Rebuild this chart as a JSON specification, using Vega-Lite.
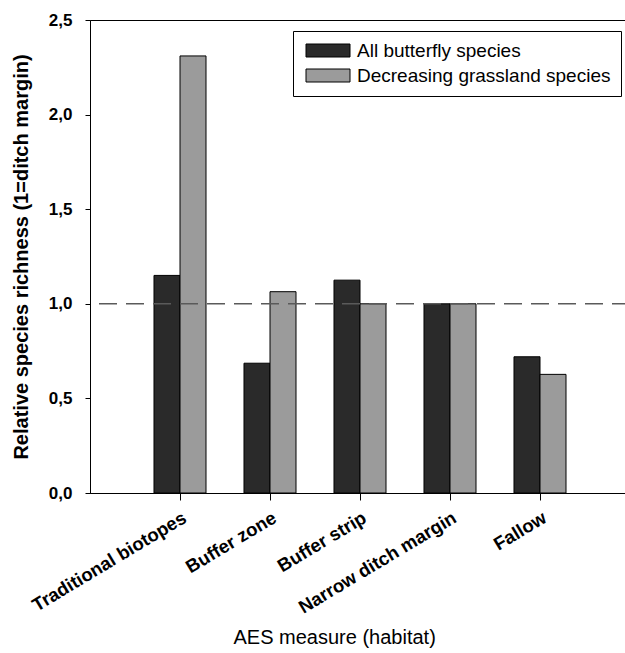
{
  "$schema": "https://vega.github.io/schema/vega-lite/v6.json",
  "width": 540,
  "height": 473,
  "autosize": {"type": "none"},
  "padding": {"left": 90, "top": 20, "right": 0, "bottom": 160},
  "background": "white",
  "config": {
    "font": "Liberation Sans",
    "view": {"stroke": "black", "strokeWidth": 1},
    "axis": {"domainColor": "black", "tickColor": "black", "labelColor": "black", "titleColor": "black", "grid": false}
  },
  "data": {
    "values": [
      {"habitat": "Traditional biotopes", "group": "All butterfly species", "richness": 1.15},
      {"habitat": "Traditional biotopes", "group": "Decreasing grassland species", "richness": 2.31},
      {"habitat": "Buffer zone", "group": "All butterfly species", "richness": 0.686},
      {"habitat": "Buffer zone", "group": "Decreasing grassland species", "richness": 1.064},
      {"habitat": "Buffer strip", "group": "All butterfly species", "richness": 1.125},
      {"habitat": "Buffer strip", "group": "Decreasing grassland species", "richness": 1.0},
      {"habitat": "Narrow ditch margin", "group": "All butterfly species", "richness": 1.0},
      {"habitat": "Narrow ditch margin", "group": "Decreasing grassland species", "richness": 1.0},
      {"habitat": "Fallow", "group": "All butterfly species", "richness": 0.72},
      {"habitat": "Fallow", "group": "Decreasing grassland species", "richness": 0.627}
    ]
  },
  "layer": [
    {
      "mark": {"type": "bar", "stroke": "black", "strokeWidth": 1},
      "encoding": {
        "x": {
          "field": "habitat",
          "type": "nominal",
          "sort": ["Traditional biotopes", "Buffer zone", "Buffer strip", "Narrow ditch margin", "Fallow"],
          "scale": {"paddingInner": 0, "paddingOuter": 0.5},
          "axis": {
            "title": "AES measure (habitat)",
            "titleFontSize": 20,
            "titleFontWeight": "normal",
            "titleAlign": "left",
            "titleX": 143,
            "titleY": 150,
            "titleBaseline": "alphabetic",
            "labelAngle": -31,
            "labelAlign": "right",
            "labelBaseline": "top",
            "labelFontSize": 18.5,
            "labelFontWeight": "bold",
            "labelPadding": 8,
            "labelLimit": 400,
            "tickSize": 7,
            "bandPosition": 0.5
          }
        },
        "xOffset": {
          "field": "group",
          "type": "nominal",
          "sort": ["All butterfly species", "Decreasing grassland species"],
          "scale": {"paddingInner": 0, "paddingOuter": 0.73}
        },
        "y": {
          "field": "richness",
          "type": "quantitative",
          "scale": {"domain": [0, 2.5], "nice": false},
          "axis": {
            "title": "Relative species richness (1=ditch margin)",
            "titleFontSize": 20,
            "titleFontWeight": "bold",
            "titlePadding": 17,
            "values": [0, 0.5, 1, 1.5, 2, 2.5],
            "labelExpr": "replace(format(datum.value, '.1f'), '.', ',')",
            "labelFontSize": 17,
            "labelFontWeight": "bold",
            "labelPadding": 13,
            "tickSize": 5
          }
        },
        "color": {
          "field": "group",
          "type": "nominal",
          "scale": {"domain": ["All butterfly species", "Decreasing grassland species"], "range": ["#2a2a2a", "#9b9b9b"]},
          "legend": {
            "title": null,
            "orient": "none",
            "legendX": 203,
            "legendY": 11,
            "padding": 10,
            "strokeColor": "black",
            "fillColor": "white",
            "symbolType": "M-1,-1H5.77V1H-1Z",
            "symbolSize": 169,
            "symbolStrokeColor": "black",
            "symbolStrokeWidth": 1,
            "labelOffset": 35,
            "labelFontSize": 19,
            "labelColor": "black",
            "rowPadding": 5,
            "labelLimit": 400
          }
        }
      }
    },
    {
      "data": {"values": [{"ref": 1}]},
      "mark": {"type": "rule", "color": "#5a5a5a", "strokeWidth": 1.5, "strokeDash": [18, 9]},
      "encoding": {"y": {"field": "ref", "type": "quantitative"}}
    }
  ]
}
